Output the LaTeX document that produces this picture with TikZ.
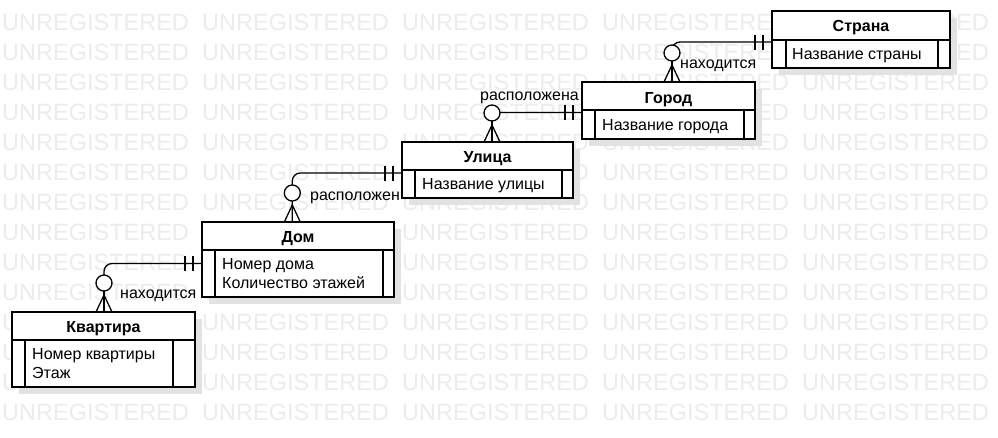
\documentclass[tikz,border=0pt]{standalone}
\usepackage{fontspec}
\setmainfont{Liberation Sans}
\definecolor{wmc}{RGB}{236,236,236}
\definecolor{shc}{RGB}{226,226,226}
\newcommand\erent[8]{%
  \fill[shc] (#2+7,#3+7) rectangle (#4+7,#6+7);
  \node[ebox, minimum width={(#4-#2)*1pt}, minimum height={(#6-#3)*1pt}] (#1) at (#2,#3) {};
  \draw[conn] (#2,#5) -- (#4,#5);
  \draw[conn] (#7,#5) -- (#7,#6);
  \draw[conn] (#8,#5) -- (#8,#6);
}
\newcommand\zeromany[1]{%
  \draw[conn] ([xshift=-8pt]#1) -- ([yshift=17pt]#1) -- ([xshift=8pt]#1);
  \draw[conn] (#1) -- ([yshift=21pt]#1);
  \draw[conn, fill=white] ([yshift=29pt]#1) circle[radius=8pt];
}
\newcommand\mandone[1]{%
  \draw[conn] ([xshift=-9pt,yshift=7.5pt]#1) -- ([xshift=-9pt,yshift=-7.5pt]#1);
  \draw[conn] ([xshift=-17pt,yshift=7.5pt]#1) -- ([xshift=-17pt,yshift=-7.5pt]#1);
}
\begin{document}
\begin{tikzpicture}[x=1pt,y=-1pt,
 conn/.style={line width=1.3pt, draw=black},
 ebox/.style={draw, fill=white, line width=1.3pt, inner sep=0pt, outer sep=0pt, anchor=north west},
 ttl/.style={font=\fontsize{16}{19}\selectfont\bfseries, inner sep=0pt, anchor=base},
 bt/.style={font=\fontsize{16}{19}\selectfont, inner sep=0pt, anchor=base west},
 wm/.style={font=\fontsize{23.5}{28}\selectfont, text=wmc, inner sep=0pt, anchor=base west},
 lbl/.style={font=\fontsize{16}{19}\selectfont, inner sep=0pt, anchor=base west}]
\useasboundingbox[fill=white] (0,0) rectangle (998,437);
% watermark
\foreach \r in {1,...,14}{
  \foreach \c in {0,...,4}{
    \node[wm] (wm-\r-\c) at ({2+200*\c},{30*\r}) {UNREGISTERED};
  }
}
% entities
\erent{strana}{772}{11}{950}{40}{68}{786}{938}
\erent{gorod}{582}{82}{755}{110}{139}{595}{744}
\erent{ulica}{402}{142}{573}{170}{198}{415}{562}
\erent{dom}{202}{222}{394}{250}{297}{215}{383}
\erent{kv}{12}{312}{195}{340}{387}{25}{173}
% titles
\node[ttl] (strana-t) at (861,31) {Страна};
\node[ttl] (gorod-t) at (668.5,103) {Город};
\node[ttl] (ulica-t) at (487.5,162) {Улица};
\node[ttl] (dom-t) at (298,242) {Дом};
\node[ttl] (kv-t) at (103.5,332) {Квартира};
% bodies
\node[bt] (strana-b) at (792,59.5) {Название страны};
\node[bt] (gorod-b) at (602,130) {Название города};
\node[bt] (ulica-b) at (422,189.5) {Название улицы};
\node[bt] (dom-b1) at (222,269.5) {Номер дома};
\node[bt] (dom-b2) at (222,288) {Количество этажей};
\node[bt] (kv-b1) at (32,359.5) {Номер квартиры};
\node[bt] (kv-b2) at (32,378) {Этаж};
% connectors
\coordinate (s1) at ([yshift=-2.5pt]strana.west);
\coordinate (e1) at ([xshift=3.5pt]gorod.north);
\coordinate (s2) at ([yshift=-2pt]gorod.west);
\coordinate (e2) at ([xshift=4.5pt]ulica.north);
\coordinate (s3) at ([yshift=-3pt]ulica.west);
\coordinate (e3) at ([xshift=-5.7pt]dom.north);
\coordinate (s4) at ([yshift=-4pt]dom.west);
\coordinate (e4) at ([xshift=0.5pt]kv.north);
\draw[conn, rounded corners=8pt] (s1) -| (e1);
\draw[conn, rounded corners=8pt] (s2) -| (e2);
\draw[conn, rounded corners=8pt] (s3) -| (e3);
\draw[conn, rounded corners=8pt] (s4) -| (e4);
\mandone{s1}\zeromany{e1}
\mandone{s2}\zeromany{e2}
\mandone{s3}\zeromany{e3}
\mandone{s4}\zeromany{e4}
% labels
\node[lbl] (l1) at (680,68.3) {находится};
\node[lbl] (l2) at (480,100) {расположена};
\node[lbl] (l3) at (310,200) {расположен};
\node[lbl] (l4) at (120,298.3) {находится};
\end{tikzpicture}
\end{document}
